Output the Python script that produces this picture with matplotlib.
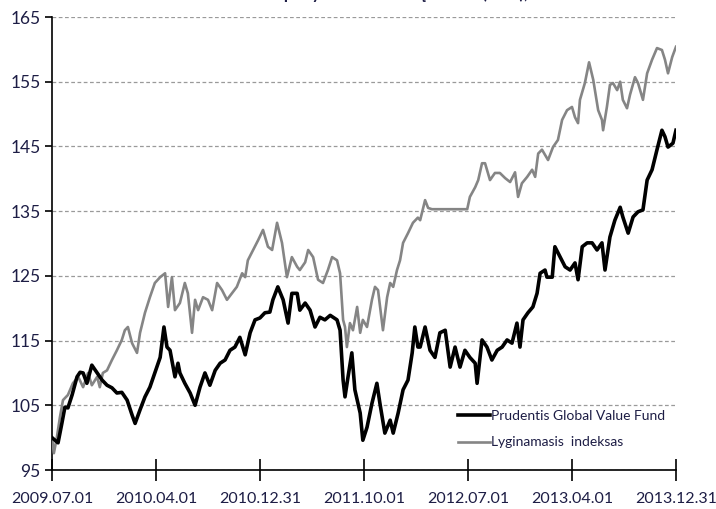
import numpy as np
import matplotlib
matplotlib.use("Agg")
import matplotlib.pyplot as plt

# Pradžios data ir tick'ų datos
start = np.datetime64("2009-07-01")
tick_labels = ["2009.07.01", "2010.04.01", "2010.12.31", "2011.10.01",
               "2012.07.01", "2013.04.01", "2013.12.31"]

# Prudentis Global Value Fund (dienos nuo pradžios, vertė)
fund_day = [0, 16, 26, 34, 42, 53, 66, 74, 82, 92, 105, 119, 132, 145, 158, 171, 184, 198,
            211, 219, 232, 245, 258, 271, 285, 295, 303, 311, 324, 332, 337, 350, 364, 377,
            390, 403, 416, 430, 443, 456, 469, 482, 495, 509, 522, 535, 548, 561, 574, 582,
            595, 609, 622, 632, 646, 653, 667, 680, 693, 706, 719, 733, 751, 759, 767, 772,
            780, 790, 798, 812, 819, 830, 843, 856, 864, 877, 891, 899, 912, 925, 938, 949,
            956, 964, 970, 983, 996, 1009, 1022, 1036, 1049, 1062, 1075, 1088, 1101, 1115,
            1120, 1133, 1146, 1159, 1173, 1186, 1199, 1212, 1225, 1233, 1241, 1254, 1267,
            1278, 1286, 1299, 1304, 1318, 1325, 1339, 1352, 1365, 1378, 1386, 1397, 1410,
            1423, 1436, 1449, 1457, 1470, 1483, 1497, 1504, 1518, 1531, 1544, 1557, 1568,
            1581, 1594, 1607, 1615, 1623, 1636, 1644]
fund = [100.0, 99.2, 102.2, 104.7, 104.6, 106.6, 109.4, 110.1, 110.0, 108.4, 111.2, 110.0,
        108.9, 108.1, 107.7, 106.9, 107.0, 105.8, 103.5, 102.2, 104.3, 106.3, 107.8, 110.0,
        112.4, 117.1, 114.0, 113.5, 109.4, 111.5, 110.0, 108.4, 106.9, 105.0, 107.8, 110.0,
        108.1, 110.4, 111.5, 112.0, 113.5, 114.0, 115.5, 112.8, 116.2, 118.2, 118.5, 119.3,
        119.4, 121.3, 123.3, 121.3, 117.7, 122.3, 122.3, 119.7, 120.8, 119.7, 117.1, 118.6,
        118.2, 118.9, 118.2, 116.6, 108.9, 106.3, 109.4, 113.1, 107.4, 103.8, 99.6, 101.6,
        105.3, 108.4, 105.3, 100.7, 102.7, 100.7, 103.8, 107.4, 108.9, 113.1, 117.1, 114.0,
        114.0, 117.1, 113.5, 112.4, 116.2, 116.6, 110.9, 114.0, 110.9, 113.5, 112.4, 111.5,
        108.4, 115.1, 114.0, 112.0, 113.5, 114.0, 115.1, 114.6, 117.7, 114.0, 118.2, 119.3,
        120.2, 122.3, 125.4, 125.9, 124.8, 124.8, 129.5, 127.9, 126.4, 125.9, 127.0, 124.4,
        129.5, 130.1, 130.1, 129.0, 130.1, 125.9, 131.0, 133.6, 135.6, 134.1, 131.6, 134.1,
        134.9, 135.2, 139.8, 141.4, 144.5, 147.5, 146.5, 144.9, 145.5, 147.5]

# Lyginamasis indeksas
index_day = [0, 5, 13, 21, 29, 42, 55, 69, 82, 95, 105, 119, 126, 134, 145, 158, 171, 184,
             192, 200, 211, 224, 232, 245, 258, 271, 285, 298, 306, 316, 324, 337, 350, 358,
             369, 377, 385, 398, 411, 422, 435, 448, 461, 474, 487, 501, 509, 516, 530, 543,
             556, 569, 580, 593, 606, 619, 632, 646, 653, 667, 675, 688, 701, 714, 727, 738,
             751, 759, 767, 772, 777, 785, 793, 804, 812, 819, 830, 843, 851, 859, 872, 883,
             891, 899, 909, 917, 925, 938, 951, 964, 970, 983, 991, 1001, 1094, 1101, 1115,
             1123, 1133, 1141, 1154, 1167, 1180, 1194, 1207, 1220, 1228, 1238, 1252, 1265,
             1273, 1281, 1291, 1299, 1307, 1320, 1333, 1344, 1357, 1370, 1378, 1386, 1391,
             1404, 1415, 1426, 1439, 1449, 1452, 1462, 1470, 1478, 1489, 1497, 1504, 1515,
             1523, 1536, 1544, 1557, 1568, 1581, 1594, 1607, 1615, 1623, 1634, 1644]
index = [100.0, 97.6, 100.1, 103.2, 105.8, 106.6, 108.4, 109.4, 107.8, 110.0, 108.1, 109.4,
         107.8, 110.0, 110.4, 112.0, 113.5, 115.1, 116.6, 117.1, 114.6, 113.1, 116.2, 119.3,
         121.7, 123.9, 124.8, 125.4, 120.2, 124.8, 119.7, 120.8, 123.9, 122.3, 116.2, 121.3,
         119.7, 121.7, 121.3, 119.7, 123.9, 122.8, 121.3, 122.3, 123.3, 125.4, 124.8, 127.4,
         129.0, 130.5, 132.1, 129.5, 129.0, 133.2, 130.1, 124.8, 127.9, 126.4, 125.9, 127.1,
         129.0, 127.9, 124.4, 123.9, 125.9, 127.9, 127.4, 125.4, 118.2, 117.1, 114.0, 117.7,
         116.6, 120.2, 116.2, 118.2, 117.1, 121.3, 123.3, 122.8, 116.6, 121.7, 123.9, 123.3,
         125.9, 127.4, 130.1, 131.6, 133.2, 134.0, 133.6, 136.7, 135.5, 135.3, 135.3, 137.2,
         138.7, 139.8, 142.4, 142.4, 139.8, 140.9, 140.9, 140.1, 139.5, 141.0, 137.2, 139.3,
         140.3, 141.4, 140.3, 143.9, 144.5, 143.7, 142.9, 144.9, 146.0, 149.1, 150.6, 151.1,
         149.5, 148.6, 152.2, 154.8, 158.0, 155.3, 150.6, 149.1, 147.5, 151.1, 154.5, 154.8,
         153.7, 155.0, 152.2, 150.9, 153.0, 155.7, 154.8, 152.2, 156.3, 158.4, 160.2, 159.9,
         158.4, 156.3, 158.8, 160.4]

plt.rcParams['font.family'] = ['Lato', 'DejaVu Sans']
txt_color = '#1d1d45'

fund_dates = start + np.array(fund_day).astype('timedelta64[D]')
index_dates = start + np.array(index_day).astype('timedelta64[D]')
ticks = [np.datetime64(t.replace('.', '-')) for t in tick_labels]

fig = plt.figure(figsize=(7.16, 5.09), dpi=100)
ax = fig.add_axes([0.0726, 0.0766, 0.8715, 0.89])

ax.plot(index_dates, index, color='#858585', lw=1.9, label='Lyginamasis  indeksas', zorder=3)
ax.plot(fund_dates, fund, color='black', lw=2.6, label='Prudentis Global Value Fund', zorder=4)

ax.set_ylim(95, 165)
ax.set_yticks(range(95, 166, 10))
ax.set_xlim(ticks[0], ticks[-1])
ax.set_xticks(ticks)
ax.set_xticklabels(tick_labels)
ax.grid(axis='y', linestyle=(0, (3, 2)), color='#9a9a9a', lw=0.9)
ax.set_axisbelow(True)

for s in ['top', 'right']:
    ax.spines[s].set_visible(False)
for s in ['left', 'bottom']:
    ax.spines[s].set_linewidth(1.2)
ax.tick_params(axis='y', length=5, width=1.2, labelsize=12.5, colors=txt_color, pad=3)
ax.tick_params(axis='x', length=16, width=1.2, direction='inout', labelsize=11.5,
               colors=txt_color, pad=8)
ax.tick_params(axis='both', color='black')

# legenda: fondas viršuje
h, l = ax.get_legend_handles_labels()
leg = ax.legend(h[::-1], l[::-1], loc='lower left', bbox_to_anchor=(0.63, 0.02),
                frameon=False, fontsize=10, handlelength=2.3, handletextpad=0.1,
                labelspacing=1.05)
for t in leg.get_texts():
    t.set_color(txt_color)

# antraštė nukirpta viršuje, kaip originale
fig.text(0.56, 1.013, 'Vertės pokytis nuo fondo įkūrimo (EUR), 2013', ha='center',
         va='center', fontsize=12, fontweight='bold', color=txt_color)

fig.savefig('out.png', dpi=100)
